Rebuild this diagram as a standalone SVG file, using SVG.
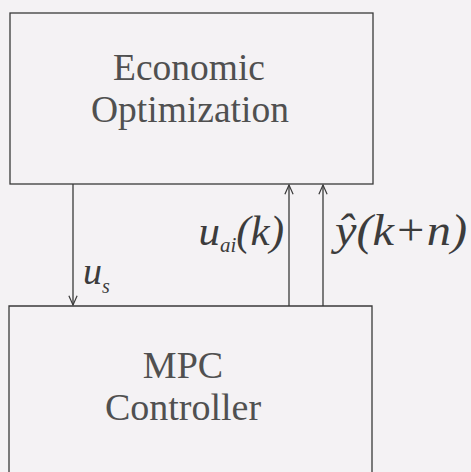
<svg xmlns="http://www.w3.org/2000/svg" width="471" height="472" viewBox="0 0 471 472">
<defs>
<style>
.box{fill:none;stroke:#3a3a3a;stroke-width:1.3}
.conn{stroke:#3a3a3a;stroke-width:1.3;fill:none}
.t{font-family:"Liberation Serif","Times New Roman",serif;font-size:38px;fill:#505050;text-anchor:middle}
.m{font-family:"Liberation Serif","Times New Roman",serif;font-style:italic;fill:#3c3c3c}
</style>
<marker id="ah" viewBox="0 0 12 12" refX="11" refY="6" markerWidth="11" markerHeight="11" markerUnits="userSpaceOnUse" orient="auto">
<path d="M1,1.5 L11,6 L1,10.5" fill="none" stroke="#3a3a3a" stroke-width="1.3"/>
</marker>
</defs>
<rect width="471" height="472" fill="#f4f2f4"/>
<g id="economic-optimization">
<rect class="box" x="10" y="13" width="363" height="171"/>
<text class="t" x="189" y="80" textLength="152" lengthAdjust="spacingAndGlyphs">Economic</text>
<text class="t" x="190" y="122" textLength="198" lengthAdjust="spacingAndGlyphs">Optimization</text>
</g>
<g id="mpc-controller">
<path class="box" d="M9,480 V306 H372 V480"/>
<text class="t" x="183" y="378">MPC</text>
<text class="t" x="183" y="420">Controller</text>
</g>
<g id="connectors">
<line class="conn" x1="73" y1="184" x2="73" y2="305" marker-end="url(#ah)"/>
<line class="conn" x1="289" y1="306" x2="289" y2="185" marker-end="url(#ah)"/>
<line class="conn" x1="323" y1="306" x2="323" y2="185" marker-end="url(#ah)"/>
<text class="m" x="83" y="284" font-size="38">u<tspan font-size="20" dy="9">s</tspan></text>
<text class="m" x="284" y="245" font-size="43" text-anchor="end">u<tspan font-size="21" dy="7">ai</tspan><tspan dy="-7">(k)</tspan></text>
<text class="m" x="335" y="245" font-size="44" textLength="132" lengthAdjust="spacingAndGlyphs">ŷ(k+n)</text>
</g>
</svg>
